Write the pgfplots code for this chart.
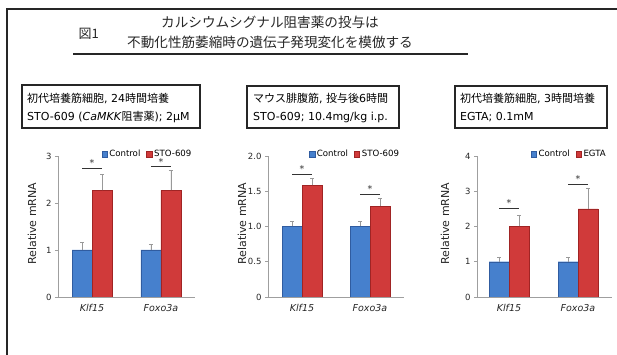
\documentclass[border=0pt]{standalone}
\usepackage{pgfplots}
\pgfplotsset{compat=1.18}
\usepackage{fontspec}
\setmainfont{DejaVu Sans}
\newfontfamily\cjk{Noto Sans CJK JP}
\definecolor{cblue}{RGB}{70,128,205}
\definecolor{cblueD}{RGB}{48,92,160}
\definecolor{cred}{RGB}{208,58,58}
\definecolor{credD}{RGB}{160,36,36}
\tikzset{st/.style={midway, above, inner sep=1pt, font=\fontsize{9.5}{10}\selectfont}}
\pgfplotsset{
  mybar/.style={
    scale only axis, height=141pt, ymin=0,
    axis lines*=left,
    axis line style={gray!75, line width=0.6pt},
    xtick={0,1}, xticklabels={\textit{Klf15},\textit{Foxo3a}},
    xtick style={draw=none},
    ytick style={draw=gray!75, line width=0.6pt},
    tick align=outside, major tick length=3pt,
    ybar=0pt, bar width=20pt,
    /pgf/number format/assume math mode=true,
    y tick label style={font=\fontsize{8.5}{9}\selectfont, text=black!85},
    x tick label style={font=\fontsize{9.5}{10}\selectfont, text=black!85, yshift=-1pt},
    ylabel={Relative mRNA},
    legend columns=2,
    legend style={draw=none, fill=none, inner sep=0pt, font=\fontsize{8.6}{9}\selectfont,
      /tikz/every even column/.append style={column sep=4pt}},
    error bars/y dir=plus, error bars/y explicit,
    error bars/error bar style={gray!80, line width=0.6pt},
    error bars/error mark options={rotate=90, mark size=2pt, gray!80, line width=0.6pt},
  },
  sq/.style={legend image code/.code={\fill[##1] (0pt,-2.7pt) rectangle (5.4pt,2.7pt);}},
}
\begin{document}
\begin{tikzpicture}[x=1pt,y=1pt]
\useasboundingbox (0,0) rectangle (617,355);
\draw[line width=1.5pt, black!85] (7,-5) -- (7,346) -- (625,346);
% title
\node[anchor=west, font=\cjk\fontsize{13}{14}\selectfont, text=black!85] at (75,321) {図1};
\node[font=\cjk\fontsize{13.6}{15}\selectfont, text=black!85] at (270,333) {カルシウムシグナル阻害薬の投与は};
\node[font=\cjk\fontsize{13.6}{15}\selectfont, text=black!85] at (270,313) {不動化性筋萎縮時の遺伝子発現変化を模倣する};
\draw[line width=1.2pt, black!85] (73,301) -- (468,301);
% boxes
\draw[line width=1.3pt, black!85] (22,270) rectangle (200,227);
\node[anchor=west, inner sep=0pt, font=\fontsize{11}{12}\selectfont] at (27,256) {{\cjk 初代培養筋細胞}, 24{\cjk 時間培養}};
\node[anchor=west, inner sep=0pt, font=\fontsize{11}{12}\selectfont] at (27,238) {STO-609 (\textit{CaMKK}{\cjk 阻害薬}); 2μM};
\draw[line width=1.3pt, black!85] (247,269) rectangle (399,227);
\node[anchor=west, inner sep=0pt, font=\fontsize{11}{12}\selectfont] at (253,256) {{\cjk マウス腓腹筋}, {\cjk 投与後}6{\cjk 時間}};
\node[anchor=west, inner sep=0pt, font=\fontsize{11}{12}\selectfont] at (253,238) {STO-609; 10.4mg/kg i.p.};
\draw[line width=1.3pt, black!85] (455,269) rectangle (607,227);
\node[anchor=west, inner sep=0pt, font=\fontsize{11}{12}\selectfont] at (460,256) {{\cjk 初代培養筋細胞}, 3{\cjk 時間培養}};
\node[anchor=west, inner sep=0pt, font=\fontsize{11}{12}\selectfont] at (460,238) {EGTA; 0.1mM};

% panel 1
\begin{axis}[mybar, at={(58pt,58pt)}, anchor=south west, width=137pt,
  xmin=-0.493, xmax=1.493, ymax=3, ytick={0,1,2,3},
  every axis y label/.style={at={(axis description cs:-0.19,0.52)}, rotate=90, anchor=center, font=\fontsize{11}{12}\selectfont, text=black!85},
  legend style={at={(axis description cs:0.99,1.014)}, anchor=east}]
\addplot[sq, fill=cblue, draw=cblueD] coordinates {(0,1.0) +- (0,0.16) (1,1.0) +- (0,0.13)};
\addplot[sq, fill=cred, draw=credD] coordinates {(0,2.27) +- (0,0.33) (1,2.27) +- (0,0.42)};
\legend{Control,STO-609}
\draw[black!80, line width=0.7pt] (axis cs:-0.145,2.745) -- (axis cs:0.145,2.745) node[st] {*};
\draw[black!80, line width=0.7pt] (axis cs:0.855,2.77) -- (axis cs:1.145,2.77) node[st] {*};
\end{axis}

% panel 2
\begin{axis}[mybar, at={(268pt,58pt)}, anchor=south west, width=136pt,
  xmin=-0.5, xmax=1.5, ymax=2, ytick={0,0.5,1,1.5,2}, yticklabels={0,0.5,1.0,1.5,2.0},
  every axis y label/.style={at={(axis description cs:-0.191,0.52)}, rotate=90, anchor=center, font=\fontsize{11}{12}\selectfont, text=black!85},
  legend style={at={(axis description cs:0.98,1.014)}, anchor=east}]
\addplot[sq, fill=cblue, draw=cblueD] coordinates {(0,1.0) +- (0,0.07) (1,1.0) +- (0,0.07)};
\addplot[sq, fill=cred, draw=credD] coordinates {(0,1.585) +- (0,0.1) (1,1.29) +- (0,0.11)};
\legend{Control,STO-609}
\draw[black!80, line width=0.7pt] (axis cs:-0.147,1.74) -- (axis cs:0.147,1.74) node[st] {*};
\draw[black!80, line width=0.7pt] (axis cs:0.853,1.46) -- (axis cs:1.147,1.46) node[st] {*};
\end{axis}

% panel 3
\begin{axis}[mybar, at={(477pt,58pt)}, anchor=south west, width=135pt,
  xmin=-0.464, xmax=1.493, ymax=4, ytick={0,1,2,3,4},
  every axis y label/.style={at={(axis description cs:-0.237,0.52)}, rotate=90, anchor=center, font=\fontsize{11}{12}\selectfont, text=black!85},
  legend style={at={(axis description cs:0.97,1.014)}, anchor=east}]
\addplot[sq, fill=cblue, draw=cblueD] coordinates {(0,1.0) +- (0,0.14) (1,1.0) +- (0,0.13)};
\addplot[sq, fill=cred, draw=credD] coordinates {(0,2.0) +- (0,0.33) (1,2.5) +- (0,0.58)};
\legend{Control,EGTA}
\draw[black!80, line width=0.7pt] (axis cs:-0.145,2.52) -- (axis cs:0.145,2.52) node[st] {*};
\draw[black!80, line width=0.7pt] (axis cs:0.855,3.2) -- (axis cs:1.145,3.2) node[st] {*};
\end{axis}
\end{tikzpicture}
\end{document}
